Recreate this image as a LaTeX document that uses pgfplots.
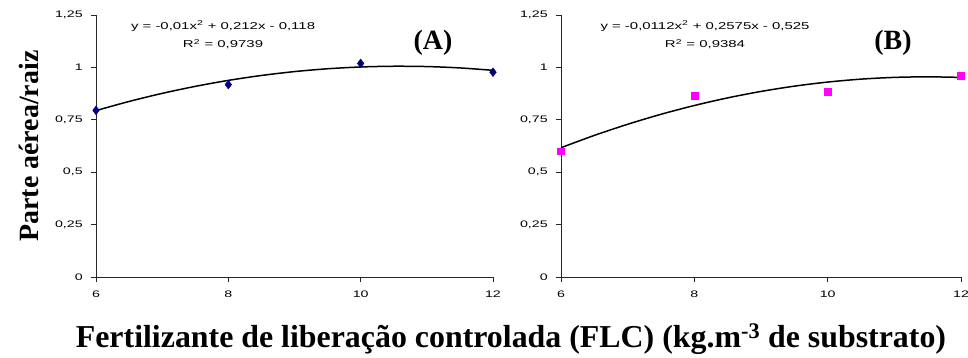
\documentclass[border=0pt]{standalone}
\usepackage{fontspec}
\setmainfont{Liberation Serif}
\setsansfont{Liberation Sans}
\usepackage{pgfplots}
\pgfplotsset{compat=1.18}
\definecolor{navyA}{RGB}{0,0,128}
\definecolor{magB}{RGB}{255,0,255}
\tikzset{eq/.style={font=\sffamily\fontsize{10}{12}\selectfont, xscale=1.5}}
\begin{document}
\begin{tikzpicture}
\pgfplotsset{
  panel/.style={
    scale only axis, width=397bp, height=262bp,
    xmin=6, xmax=12, ymin=0, ymax=1.25,
    axis lines=left, axis line style={-, line width=0.8pt, black!85},
    clip=false,
    xtick={6,8,10,12}, xticklabels={6,8,10,12},
    ytick={0,0.25,0.5,0.75,1,1.25},
    yticklabels={0,{0,25},{0,5},{0,75},1,{1,25}},
    tick align=outside, tick pos=left,
    major tick length=5bp,
    tick style={black!85, line width=0.6pt},
    ticklabel style={font=\sffamily\fontsize{9.5}{11}\selectfont, xscale=1.5},
    xticklabel style={yshift=-5bp},
    yticklabel style={xshift=-2bp},
  },
}
\path[use as bounding box] (-96bp,-81bp) rectangle (872bp,277bp);
\begin{axis}[panel, at={(0bp,0bp)}, anchor=south west]
\addplot[black, line width=1.5pt, smooth] coordinates {
(6,0.794) (6.5,0.8375) (7,0.876) (7.5,0.9095) (8,0.938) (8.5,0.9615) (9,0.98) (9.5,0.9935) (10,1.002) (10.5,1.0055) (11,1.004) (11.5,0.9975) (12,0.986)};
\addplot[only marks, mark=diamond*, mark size=4.4bp, color=navyA] coordinates {
(6,0.795) (8,0.918) (10,1.019) (12,0.977)};
\node[eq] at (rel axis cs:0.32,0.958) {y = -0,01x\textsuperscript{2} + 0,212x - 0,118};
\node[eq] at (rel axis cs:0.32,0.889) {R\textsuperscript{2} = 0,9739};
\node[font=\bfseries\fontsize{28}{30}\selectfont] at (rel axis cs:0.849,0.893) {(A)};
\end{axis}
\begin{axis}[panel, width=400bp, at={(465bp,0bp)}, anchor=south west]
\addplot[black, line width=1.5pt, smooth] coordinates {
(6,0.6168) (6.5,0.6756) (7,0.7287) (7.5,0.7763) (8,0.8182) (8.5,0.8546) (9,0.8853) (9.5,0.9105) (10,0.93) (10.5,0.944) (11,0.9523) (11.5,0.955) (12,0.9522)};
\addplot[only marks, mark=square*, mark size=3.4bp, color=magB] coordinates {
(6,0.60) (8,0.865) (10,0.885) (12,0.962)};
\node[eq] at (rel axis cs:0.36,0.958) {y = -0,0112x\textsuperscript{2} + 0,2575x - 0,525};
\node[eq] at (rel axis cs:0.36,0.889) {R\textsuperscript{2} = 0,9384};
\node[font=\bfseries\fontsize{28}{30}\selectfont] at (rel axis cs:0.83,0.893) {(B)};
\end{axis}
\node[rotate=90, font=\bfseries\fontsize{28}{30}\selectfont] at (-67bp,131bp) {Parte aérea/raiz};
\node[font=\bfseries\fontsize{32}{34}\selectfont] at (415bp,-62bp) {Fertilizante de liberação controlada (FLC) (kg.m\textsuperscript{-3} de substrato)};
\end{tikzpicture}
\end{document}
